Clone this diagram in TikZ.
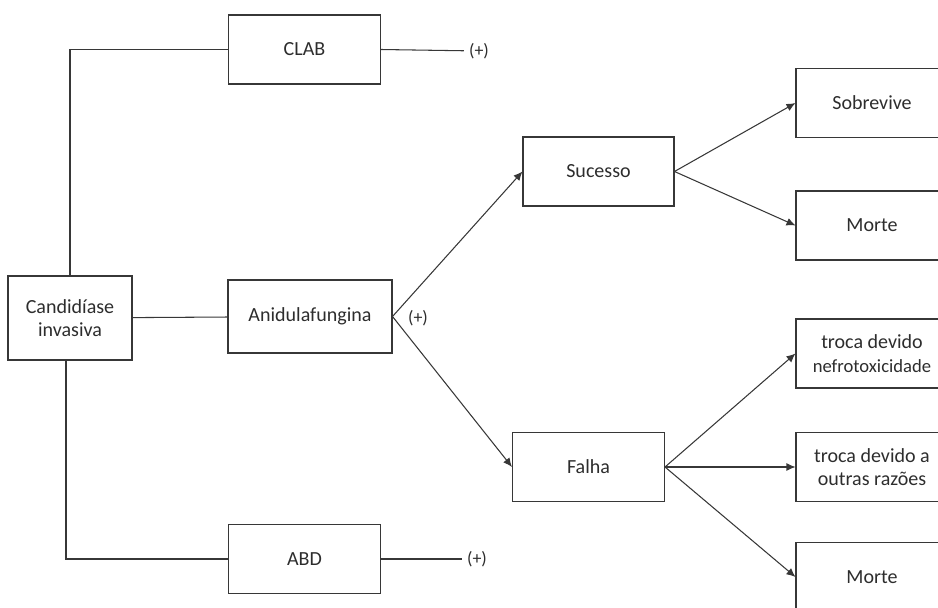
\documentclass[tikz,border=0pt]{standalone}
\usepackage{fontspec}
\setmainfont{Carlito}
\usepackage{tikz}
\usetikzlibrary{arrows.meta,positioning,calc}
\definecolor{linegray}{RGB}{55,55,55}
\definecolor{textgray}{RGB}{45,45,45}

\begin{document}
\begin{tikzpicture}[
    x=0.02cm, y=-0.02cm,
    box/.style={draw=linegray, line width=0.6pt, align=center, text=textgray, font=\fontsize{11.4}{13.4}\selectfont, minimum width=3.04cm, minimum height=1.37cm, inner sep=1pt},
    plus/.style={text=textgray, font=\fontsize{10.2}{12}\selectfont, inner sep=0.1cm},
    line/.style={draw=linegray, line width=0.6pt},
    arrow/.style={-{Latex[length=1.8mm, width=1.6mm]}, draw=linegray, line width=0.6pt}
]
\useasboundingbox (0,0) rectangle (938,608);
\clip (0,0) rectangle (938,608);

\node[box, minimum width=2.48cm, minimum height=1.68cm] (cand) at (70,318) {Candidíase\\invasiva};

\node[box, minimum height=1.38cm] (clab) at (304.5,49.5) {CLAB};
\node[box, minimum width=3.28cm, minimum height=1.46cm] (anid) at (310,316.5) {Anidulafungina};
\node[box] (abd) at (304.5,559) {ABD};

\node[plus] (plusclab) at (479,51) {(+)};
\node[plus] (plusanid) at (418,318) {(+)};
\node[plus] (plusabd) at (477,559) {(+)};

\node[box, minimum width=3.02cm, minimum height=1.38cm] (suc) at (598.5,171.5) {Sucesso};
\node[box] (falha) at (588.5,467) {Falha};

\node[box] (sobre) at (872,103) {Sobrevive};
\node[box, minimum height=1.38cm] (morteA) at (872,225.5) {Morte};
\node[box, minimum height=1.38cm] (nefro) at (872,353.5) {troca devido\\{\fontsize{10.6}{12}\selectfont nefrotoxicidade}};
\node[box] (outras) at (872,467) {troca devido a\\outras razões};
\node[box] (morteB) at (872,577) {Morte};

\draw[line] (cand.north) |- (clab.west);
\draw[line] ([xshift=-0.08cm]cand.south) |- (abd.west);
\draw[line] (cand) -- (anid);
\draw[line] (clab.east) -- (plusclab);
\draw[line] (abd.east) -- (plusabd);

\draw[arrow] (anid.east) -- (suc.west);
\draw[arrow] (anid.east) -- (falha.west);
\draw[arrow] (suc.east) -- (sobre.west);
\draw[arrow] (suc.east) -- (morteA.west);
\draw[arrow] (falha.east) -- (nefro.west);
\draw[arrow] (falha.east) -- (outras.west);
\draw[arrow] (falha.east) -- (morteB.west);
\end{tikzpicture}
\end{document}
